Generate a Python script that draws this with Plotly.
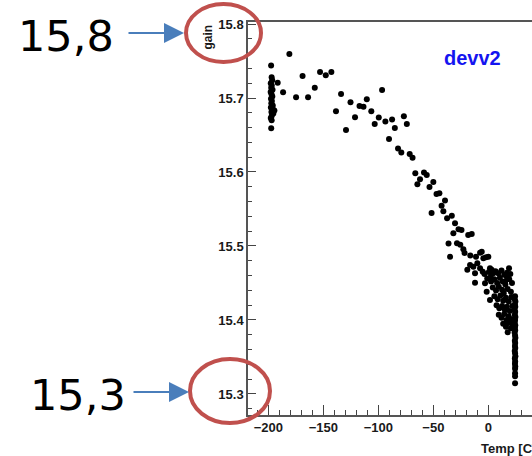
import plotly.graph_objects as go

# Gain of device devv2 versus temperature
cold_temp = [-197.5, -197.0, -196.5, -197.8, -196.9, -197.4, -196.2, -197.9, -197.1, -196.4,
             -197.6, -196.8, -197.3, -196.0, -197.7, -196.6, -197.2, -195.5, -196.9, -197.8,
             -197.0, -196.2, -194.5, -197.4]
cold_gain = [15.744, 15.728, 15.724, 15.720, 15.717, 15.714, 15.711, 15.708, 15.705, 15.702,
             15.699, 15.696, 15.693, 15.690, 15.687, 15.684, 15.681, 15.679, 15.676, 15.673,
             15.670, 15.686, 15.683, 15.659]

warmup_temp = [-191.5, -186.6, -180.9, -168.9, -174.8, -163.9, -157.8, -153.0, -147.8, -142.7,
               -133.9, -138.5, -125.3, -121.2, -129.4, -117.1, -113.5, -110.5, -96.6, -106.4,
               -99.6, -103.3, -93.6, -87.5, -76.8, -74.1, -85.0, -90.3, -82.1, -79.1,
               -71.5, -68.9, -66.4, -58.5, -56.0, -62.1, -64.5, -50.0, -53.5, -47.1,
               -44.5, -39.4, -42.5, -40.9, -51.6, -37.5, -33.2, -30.3, -27.1, -24.4,
               -31.8, -18.3, -15.1, -36.2, -28.5, -25.5, -22.7, -21.6, -34.8, -16.4,
               -19.1, -11.2, -7.5, -2.1, 0.0, -6.0, -4.5, -16.6, -13.6, -12.1,
               -10.0, -7.5, -5.1, -12.1, 1.5, 4.5, 2.2, 18.8, 16.7, 15.2,
               -3.0, -1.5, 1.5, 17.6]
warmup_gain = [15.7207, 15.7077, 15.7595, 15.7297, 15.7009, 15.7009, 15.7139, 15.7351, 15.7307, 15.7351,
               15.7054, 15.6820, 15.6942, 15.6739, 15.6568, 15.6892, 15.6882, 15.6982, 15.7108, 15.6822,
               15.6736, 15.6649, 15.6682, 15.6709, 15.6753, 15.6649, 15.6595, 15.6446, 15.6318, 15.6264,
               15.6243, 15.6192, 15.5982, 15.5993, 15.5959, 15.5901, 15.5834, 15.5865, 15.5797, 15.5703,
               15.5712, 15.5615, 15.5543, 15.5469, 15.5446, 15.5374, 15.5409, 15.5307, 15.5226, 15.5216,
               15.5172, 15.5149, 15.5162, 15.5034, 15.5037, 15.5018, 15.4955, 15.4905, 15.4854, 15.4872,
               15.4680, 15.4855, 15.4910, 15.4847, 15.4855, 15.4923, 15.4834, 15.4743, 15.4720, 15.4631,
               15.4766, 15.4699, 15.4653, 15.4504, 15.4699, 15.4631, 15.4585, 15.4699, 15.4585, 15.4518,
               15.4496, 15.4382, 15.4270, 15.3834]

room_temp = [-3.5, 0.5, 3.0, 6.5, 9.0, 12.0, 14.5, 17.0, 20.0,
             -1.0, 2.5, 5.5, 8.0, 10.5, 13.0, 15.5, 19.0, 21.5,
             4.0, 7.0, 9.5, 12.5, 14.0, 17.5, 20.5,
             5.5, 8.5, 11.0, 13.5, 16.0, 18.5, 21.0,
             7.5, 10.0, 12.5, 15.0, 17.0, 19.5, 22.0,
             9.5, 12.0, 14.5, 16.5, 18.5, 21.0,
             13.5, 16.0, 18.0, 20.5, 22.0]
room_gain = [15.462, 15.465, 15.468, 15.466, 15.463, 15.467, 15.461, 15.464, 15.462,
             15.456, 15.452, 15.455, 15.450, 15.457, 15.452, 15.448, 15.455, 15.450,
             15.444, 15.440, 15.445, 15.441, 15.436, 15.442, 15.438,
             15.432, 15.428, 15.433, 15.426, 15.430, 15.425, 15.431,
             15.420, 15.416, 15.419, 15.414, 15.418, 15.412, 15.419,
             15.407, 15.403, 15.408, 15.400, 15.405, 15.401,
             15.395, 15.391, 15.396, 15.389, 15.394]

stable_temp = [24.3, 24.0, 24.6, 24.2, 24.5, 23.9, 24.4, 24.1, 24.6, 24.3,
               24.0, 24.5, 24.2, 24.4, 23.9, 24.3, 24.6, 24.1, 24.4, 24.2,
               24.5, 24.0, 24.3, 24.6, 24.1, 24.4, 24.2, 24.5, 24.3, 24.3,
               24.3, 24.3]
stable_gain = [15.432, 15.428, 15.425, 15.421, 15.418, 15.414, 15.411, 15.407, 15.404, 15.400,
               15.397, 15.393, 15.390, 15.386, 15.383, 15.379, 15.376, 15.372, 15.369, 15.365,
               15.362, 15.358, 15.355, 15.351, 15.348, 15.344, 15.341, 15.337, 15.334, 15.328,
               15.324, 15.3145]

temp = cold_temp + warmup_temp + room_temp + stable_temp
gain = cold_gain + warmup_gain + room_gain + stable_gain

x_range = [-218.5, 39.7]
y_range = [15.2716, 15.8027]
y_ticks = [15.3, 15.4, 15.5, 15.6, 15.7, 15.8]

W, H = 532, 456
PL, PT, PR, PB = 248, 22, 532, 415


def fx(p):
    return (p - PL) / (PR - PL)


def fy(p):
    return (PB - p) / (PB - PT)


tick_font = dict(family="Liberation Sans", size=13, color="#1a1a1a", weight="bold")

fig = go.Figure()
fig.add_trace(go.Scatter(
    x=temp, y=gain, mode="markers",
    marker=dict(size=6, color="black", line=dict(width=0)),
    showlegend=False, hoverinfo="skip",
))

fig.update_xaxes(
    range=x_range, showgrid=False, zeroline=False, automargin=False,
    showline=True, linecolor="#555", linewidth=1.5, mirror=True,
    ticks="inside", ticklen=10, tickwidth=1, tickcolor="#444",
    tick0=0, dtick=50, tickfont=tick_font,
    minor=dict(ticks="inside", ticklen=5, dtick=10, tickcolor="#444", tickwidth=1),
)
fig.update_yaxes(
    range=y_range, showgrid=False, zeroline=False, automargin=False,
    showline=True, linecolor="#555", linewidth=1.5,
    ticks="inside", ticklen=8, tickwidth=1, tickcolor="#444",
    tickvals=y_ticks, ticktext=[f"{v:.1f}" for v in y_ticks], tickfont=tick_font,
    minor=dict(ticks="inside", ticklen=4, dtick=0.02, tick0=15.3, tickcolor="#444", tickwidth=1),
)

annotations = [
    dict(text="devv2", xref="paper", yref="paper", x=fx(472), y=fy(58),
         showarrow=False, xanchor="center", yanchor="middle",
         font=dict(family="Liberation Sans", size=20, color="#1414f0", weight="bold")),
    dict(text="gain", xref="paper", yref="paper", x=fx(208), y=fy(23),
         showarrow=False, textangle=-90, xanchor="center", yanchor="top",
         font=dict(family="Liberation Sans", size=12, color="#1a1a1a", weight="bold")),
    dict(text="Temp [C]", xref="paper", yref="paper", x=fx(479), y=fy(448),
         showarrow=False, xanchor="left", yanchor="middle",
         font=dict(family="Liberation Sans", size=13, color="#1a1a1a", weight="bold")),
    dict(text="15,8", xref="paper", yref="paper", x=fx(66), y=fy(36),
         showarrow=False, xanchor="center", yanchor="middle",
         font=dict(family="DejaVu Sans", size=43, color="black")),
    dict(text="15,3", xref="paper", yref="paper", x=fx(78), y=fy(395),
         showarrow=False, xanchor="center", yanchor="middle",
         font=dict(family="DejaVu Sans", size=43, color="black")),
    dict(text="", xref="paper", yref="paper", x=fx(184), y=fy(33),
         ax=-57, ay=0, showarrow=True, arrowhead=2, arrowsize=2, arrowwidth=2,
         arrowcolor="#4a7ebb", standoff=0),
    dict(text="", xref="paper", yref="paper", x=fx(189), y=fy(392),
         ax=-57, ay=0, showarrow=True, arrowhead=2, arrowsize=2, arrowwidth=2,
         arrowcolor="#4a7ebb", standoff=0),
]

shapes = [
    dict(type="circle", xref="paper", yref="paper",
         x0=fx(186), x1=fx(261), y0=fy(62), y1=fy(4),
         line=dict(color="#c0504d", width=4)),
    dict(type="circle", xref="paper", yref="paper",
         x0=fx(190), x1=fx(270), y0=fy(423), y1=fy(359),
         line=dict(color="#c0504d", width=4)),
]

fig.update_layout(
    width=W, height=H,
    margin=dict(l=PL, r=W - PR, t=PT, b=H - PB, pad=0),
    paper_bgcolor="white", plot_bgcolor="white",
    annotations=annotations, shapes=shapes,
)

fig.write_html("out.html")
